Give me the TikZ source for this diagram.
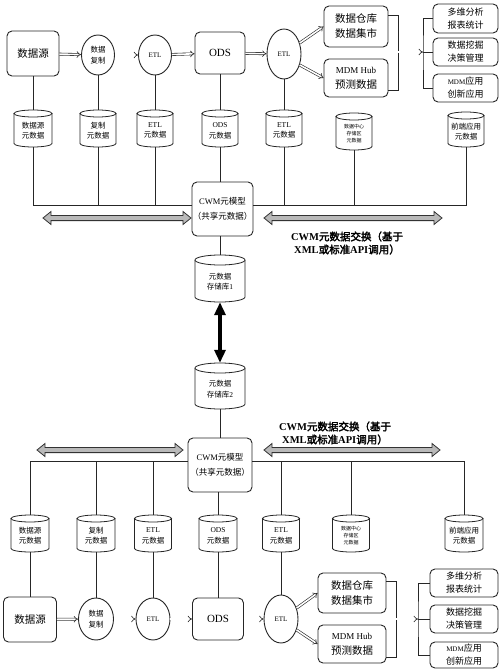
\documentclass[tikz,border=0pt]{standalone}
\usepackage{fontspec}
\setmainfont{Liberation Serif}
\newfontfamily\cjk{Noto Sans CJK SC}
\newfontfamily\cjkb[FakeBold=2.5]{Noto Sans CJK SC}
\newcommand{\zh}[1]{{\cjk #1}}
\newcommand{\zhb}[1]{{\cjkb #1}}
\usetikzlibrary{arrows.meta,shapes.geometric}
\tikzset{
 ln/.style={line width=0.7pt, draw=black!85},
 rbox/.style={draw=black!85, line width=0.9pt, rounded corners=5pt, align=center, inner sep=0pt},
 ell/.style={draw=black!85, line width=0.9pt, ellipse, align=center, inner sep=0pt},
 flow/.style={draw=black!85, double=white, double distance=1.6pt, line width=0.6pt, -{Implies}},
 bigarrow/.style={line width=3.5pt, {Triangle[length=13pt,width=11pt]}-{Triangle[length=13pt,width=11pt]}},
 cylline/.style={draw=black!85, line width=0.8pt},
 gray arrow/.style={draw=black!80, line width=0.8pt, fill=gray!55},
 bold label/.style={align=center, inner sep=0pt, font=\fontsize{10.5}{13}\selectfont},
}
% #1 name, #2 cx, #3 top, #4 bottom, #5 half width, #6 ellipse half height, #7 font, #8 text
\newcommand{\mycyl}[8]{%
  \draw[cylline,fill=white] ({#2-#5},{#3+#6}) -- ({#2-#5},{#4-#6})
     arc[start angle=180,end angle=360,x radius=#5pt,y radius=#6pt] -- ({#2+#5},{#3+#6});
  \draw[cylline,fill=white] (#2,{#3+#6}) ellipse[x radius=#5pt,y radius=#6pt];
  \node[inner sep=0pt,minimum width={2*#5pt},minimum height={(#4-#3)*1pt}] (#1) at (#2,{(#3+#4)/2}) {};
  \node[align=center,inner sep=0pt,font=#7] (#1-t) at (#2,{(#3+#4)/2+#6*0.6}) {#8};
}
% gray double-headed arrow: #1 x1, #2 x2, #3 y
\newcommand{\grayarrow}[3]{%
  \draw[gray arrow] (#1,#3) -- ({#1+8},{#3-6.5}) -- ({#1+8},{#3-2.6}) -- ({#2-8},{#3-2.6})
   -- ({#2-8},{#3-6.5}) -- (#2,#3) -- ({#2-8},{#3+6.5}) -- ({#2-8},{#3+2.6})
   -- ({#1+8},{#3+2.6}) -- ({#1+8},{#3+6.5}) -- cycle;
}
\begin{document}
\begin{tikzpicture}[x=1pt,y=-1pt]
\useasboundingbox[fill=white] (0,0) rectangle (502,671);
\def\fa{\fontsize{10.5}{15}\selectfont}
\def\fb{\fontsize{7.5}{11}\selectfont}
\def\fc{\fontsize{9}{13}\selectfont}
\def\fd{\fontsize{8.5}{15}\selectfont}
\def\fe{\fontsize{5}{7}\selectfont}
\def\fs{\fontsize{7.5}{10.5}\selectfont}

%================ TOP FLOW =================
\node[rbox, minimum width=52pt, minimum height=45pt, font=\fa] (ds1) at (33,53.5) {\zh{数据源}};
\node[ell, minimum width=33pt, minimum height=40pt, font=\fb] (rep1) at (98,55) {\zh{数据}\\\zh{复制}};
\node[ell, minimum width=33pt, minimum height=40pt, font=\fontsize{7}{9}\selectfont] (etl1) at (155,55) {ETL};
\node[rbox, minimum width=50pt, minimum height=42pt, font=\fontsize{11}{13}\selectfont] (ods1) at (220,53) {ODS};
\node[ell, minimum width=34pt, minimum height=50pt, font=\fontsize{7}{9}\selectfont] (etl2) at (284,54) {ETL};
\node[rbox, minimum width=64pt, minimum height=41pt, font=\fa] (dw1) at (356,26.5) {\zh{数据仓库}\\\zh{数据集市}};
\node[rbox, minimum width=64pt, minimum height=38pt, font=\fa] (mdm1) at (356,78) {{\fontsize{9}{15}\selectfont MDM Hub}\\\zh{预测数据}};
\node[rbox, minimum width=65pt, minimum height=29pt, font=\fc] (r1) at (465.5,18.5) {\zh{多维分析}\\\zh{报表统计}};
\node[rbox, minimum width=65pt, minimum height=28pt, font=\fc] (r2) at (465.5,52) {\zh{数据挖掘}\\\zh{决策管理}};
\node[rbox, minimum width=65pt, minimum height=28pt, font=\fc] (r3) at (465.5,88) {{\fontsize{7}{13}\selectfont MDM}\zh{应用}\\\zh{创新应用}};

\draw[flow] (ds1) -- (rep1);
\draw[flow] (rep1) -- (etl1);
\draw[flow] (etl1) -- (ods1);
\draw[flow] (ods1) -- (etl2);
\draw[flow] (etl2.35) -- (dw1.west);
\draw[flow] (etl2.-35) -- (mdm1.west);

\coordinate (bl1) at (398,15);
\coordinate (bl2) at (398,90);
\coordinate (jl) at (398,52);
\coordinate (jr) at (423,52);
\draw[ln] (dw1.east |- bl1) -- (bl1) -- (bl2) -- (mdm1.east |- bl2);
\draw[flow] (jl) -- (jr);
\draw[ln] (r1.west) -| (jr) |- (r3.west);
\draw[ln] (jr) -- (r2.west);

% top cylinders
\mycyl{c1}{33}{110}{147}{19}{3.5}{\fs}{\zh{数据源}\\\zh{元数据}}
\mycyl{c2}{98}{110}{147}{18}{3.5}{\fs}{\zh{复制}\\\zh{元数据}}
\mycyl{c3}{155}{110}{147}{18}{3.5}{\fs}{ETL\\\zh{元数据}}
\mycyl{c4}{220}{110}{147}{18}{3.5}{\fs}{ODS\\\zh{元数据}}
\mycyl{c5}{284}{110}{147}{18}{3.5}{\fs}{ETL\\\zh{元数据}}
\mycyl{c6}{354}{113}{150}{18}{3.5}{\fe}{\zh{数据中心}\\\zh{存储区}\\\zh{元数据}}
\mycyl{c7}{466}{112}{147}{18}{3.5}{\fs}{\zh{前端应用}\\\zh{元数据}}

\draw[ln] (ds1.south) -- (c1.north);
\draw[ln] (rep1.south) -- (c2.north);
\draw[ln] (etl1.south) -- (c3.north);
\draw[ln] (ods1.south) -- (c4.north);
\draw[ln] (etl2.south) -- (c5.north);

% upper CWM
\node[rbox, minimum width=61pt, minimum height=54pt, font=\fd] (cwm1) at (222.5,209) {CWM\zh{元模型}\\\zh{（共享元数据）}};
\draw[ln] (c4.south) -- (c4.south |- cwm1.north);
\draw[ln] (c1.south) |- ([yshift=4pt]cwm1.west);
\draw[ln] (c2.south) |- ([yshift=4pt]cwm1.west);
\draw[ln] (c3.south) |- ([yshift=4pt]cwm1.west);
\draw[ln] (c7.south) |- ([yshift=4pt]cwm1.east);
\draw[ln] (c5.south) |- ([yshift=4pt]cwm1.east);
\draw[ln] (c6.south) |- ([yshift=4pt]cwm1.east);

\grayarrow{43}{191}{218}
\grayarrow{264}{442}{218}
\node[bold label] (lab1) at (347,243) {\textbf{CWM}\zhb{元数据交换（基于}\\\textbf{XML}\zhb{或标准}\textbf{API}\zhb{调用）}};

% storage
\mycyl{s1}{220}{255}{302}{25}{5}{\fs}{\zh{元数据}\\\zh{存储库}1}
\mycyl{s2}{220}{363}{409}{25}{5}{\fs}{\zh{元数据}\\\zh{存储库}2}
\draw[ln] (s1.north |- cwm1.south) -- (s1.north);
\draw[bigarrow] (s1.south) -- (s2.north);

% lower CWM
\node[rbox, minimum width=64pt, minimum height=54pt, font=\fd] (cwm2) at (220,465) {CWM\zh{元模型}\\\zh{（共享元数据）}};
\draw[ln] (s2.south) -- (cwm2.north);

\grayarrow{37}{183}{450}
\grayarrow{264}{440}{450}
\node[bold label] (lab2) at (335,433) {\textbf{CWM}\zhb{元数据交换（基于}\\\textbf{XML}\zhb{或标准}\textbf{API}\zhb{调用）}};

% lower cylinders
\mycyl{d1}{30}{515}{552}{19}{3.5}{\fs}{\zh{数据源}\\\zh{元数据}}
\mycyl{d2}{96}{515}{552}{19}{3.5}{\fs}{\zh{复制}\\\zh{元数据}}
\mycyl{d3}{153}{515}{552}{18.5}{3.5}{\fs}{ETL\\\zh{元数据}}
\mycyl{d4}{218}{515}{552}{19}{3.5}{\fs}{ODS\\\zh{元数据}}
\mycyl{d5}{281}{515}{552}{18.5}{3.5}{\fs}{ETL\\\zh{元数据}}
\mycyl{d6}{351}{515}{552}{18.5}{3.5}{\fe}{\zh{数据中心}\\\zh{存储区}\\\zh{元数据}}
\mycyl{d7}{464}{515}{552}{19}{3.5}{\fs}{\zh{前端应用}\\\zh{元数据}}

\draw[ln] (d4.north) -- (d4.north |- cwm2.south);
\draw[ln] (d1.north) |- ([yshift=4pt]cwm2.west);
\draw[ln] (d2.north) |- ([yshift=4pt]cwm2.west);
\draw[ln] (d3.north) |- ([yshift=4pt]cwm2.west);
\draw[ln] (d7.north) |- ([yshift=4pt]cwm2.east);
\draw[ln] (d5.north) |- ([yshift=4pt]cwm2.east);
\draw[ln] (d6.north) |- ([yshift=4pt]cwm2.east);

%================ BOTTOM FLOW =================
\node[rbox, minimum width=53pt, minimum height=45pt, font=\fa] (ds2) at (30,619.5) {\zh{数据源}};
\node[ell, minimum width=35pt, minimum height=42pt, font=\fb] (rep2) at (96,619) {\zh{数据}\\\zh{复制}};
\node[ell, minimum width=34pt, minimum height=42pt, font=\fontsize{7}{9}\selectfont] (etl3) at (153,619) {ETL};
\node[rbox, minimum width=51pt, minimum height=42pt, font=\fontsize{11}{13}\selectfont] (ods2) at (218,619) {ODS};
\node[ell, minimum width=34pt, minimum height=48pt, font=\fontsize{7}{9}\selectfont] (etl4) at (281,619) {ETL};
\node[rbox, minimum width=68pt, minimum height=40pt, font=\fa] (dw2) at (352,593) {\zh{数据仓库}\\\zh{数据集市}};
\node[rbox, minimum width=68pt, minimum height=38pt, font=\fa] (mdm2) at (352,644) {{\fontsize{9}{15}\selectfont MDM Hub}\\\zh{预测数据}};
\node[rbox, minimum width=68pt, minimum height=28pt, font=\fc] (q1) at (464,583) {\zh{多维分析}\\\zh{报表统计}};
\node[rbox, minimum width=68pt, minimum height=28pt, font=\fc] (q2) at (464,619) {\zh{数据挖掘}\\\zh{决策管理}};
\node[rbox, minimum width=68pt, minimum height=26pt, font=\fc] (q3) at (464,655) {{\fontsize{7}{13}\selectfont MDM}\zh{应用}\\\zh{创新应用}};

\draw[ln] (d1.south) -- (ds2.north);
\draw[ln] (d2.south) -- (rep2.north);
\draw[ln] (d3.south) -- (etl3.north);
\draw[ln] (d4.south) -- (ods2.north);
\draw[ln] (d5.south) -- (etl4.north);

\draw[flow] (ds2) -- (rep2);
\draw[flow] (rep2) -- (etl3);
\draw[flow] (etl3) -- (ods2);
\draw[flow] (ods2) -- (etl4);
\draw[flow] (etl4.35) -- (dw2.west);
\draw[flow] (etl4.-35) -- (mdm2.west);

\coordinate (bm1) at (396,581);
\coordinate (bm2) at (396,657);
\coordinate (jl2) at (396,619);
\coordinate (jr2) at (418,619);
\draw[ln] (dw2.east |- bm1) -- (bm1) -- (bm2) -- (mdm2.east |- bm2);
\draw[flow] (jl2) -- (jr2);
\draw[ln] (q1.west) -| (jr2) |- (q3.west);
\draw[ln] (jr2) -- (q2.west);
\end{tikzpicture}
\end{document}
